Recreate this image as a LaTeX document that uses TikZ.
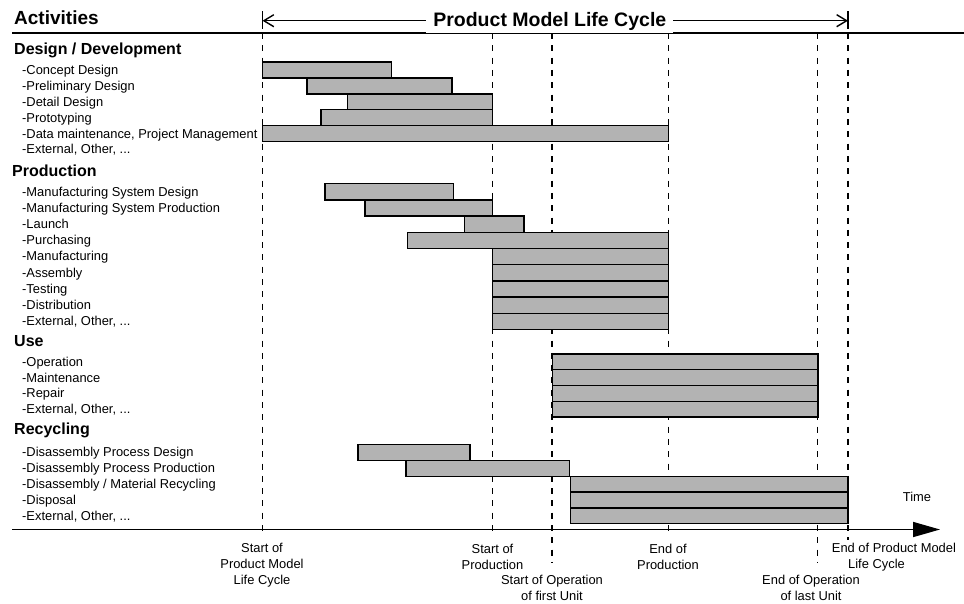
\documentclass[tikz,border=0pt]{standalone}
\usepackage{fontspec}
\setmainfont{Liberation Sans}
\usetikzlibrary{arrows.meta}
\definecolor{barfill}{RGB}{179,179,179}
% one gantt bar: x-from, x-to, top, height
\newcommand{\ganttbar}[4]{\draw[bar] (#1,#3) rectangle (#2,#3+#4);}
\begin{document}
\begin{tikzpicture}[x=1pt,y=-1pt,
  bar/.style={draw=black,fill=barfill,line width=1.4pt},
  milestone/.style={line width=1.5pt,dash pattern=on 6pt off 6.3pt},
  rule/.style={line width=1.6pt},
  item/.style={anchor=base west,inner sep=0pt,font=\fontsize{12.9}{15}\selectfont},
  group/.style={anchor=base west,inner sep=0pt,font=\bfseries\fontsize{16}{19}\selectfont},
  event/.style={align=center,inner sep=0pt,font=\fontsize{12.9}{16}\selectfont},
  barb/.tip={Straight Barb[length=10pt,width=12pt]},
]
\useasboundingbox (0,0) rectangle (964,603);

% milestone lines
\draw[milestone] (262.5,33) -- (262.5,533);
\draw[milestone] (492.5,33) -- (492.5,535);
\draw[milestone] (552,33) -- (552,562);
\draw[milestone] (668.3,33) -- (668.3,537);
\draw[milestone] (817.5,33) -- (817.5,562);
\draw[milestone] (848,33) -- (848,540);

% header rule and time axis
\draw[rule] (12,32.7) -- (964,32.7);
\draw[rule,-{Triangle[length=27pt,width=15pt]}] (12,529.5) -- (940,529.5);
\node[inner sep=0pt,font=\fontsize{12.9}{15}\selectfont] (time) at (917,496.7) {Time};

% life cycle span
\coordinate (lcL) at (262.5,20.7);
\coordinate (lcR) at (848,20.7);
\draw[line width=1.3pt] (262.5,11) -- (262.5,29);
\draw[line width=1.3pt] (848,11) -- (848,29);
\draw[line width=1.4pt,barb-barb] (lcL) -- (lcR);
\node[fill=white,anchor=base,inner xsep=7pt,inner ysep=2pt,font=\bfseries\fontsize{19.5}{22}\selectfont] (lc) at (549.8,26.8) {Product Model Life Cycle};

\node[group,font=\bfseries\fontsize{19}{22}\selectfont] (act) at (14,24.3) {Activities};

% Design / Development
\node[group] (g1) at (14,54.7) {Design / Development};
\node[item] at (22,74.4) {-Concept Design};
\node[item] at (22,90.3) {-Preliminary Design};
\node[item] at (22,106.2) {-Detail Design};
\node[item] at (22,122.1) {-Prototyping};
\node[item] at (22,138) {-Data maintenance, Project Management};
\node[item] at (22,153.9) {-External, Other, ...};
\ganttbar{262.5}{391.7}{62}{15.9}
\ganttbar{307}{452}{77.9}{15.9}
\ganttbar{347.7}{492.5}{93.8}{15.9}
\ganttbar{321}{492.5}{109.7}{15.9}
\ganttbar{262.5}{668.3}{125.6}{15.9}

% Production
\node[group] (g2) at (12,176.4) {Production};
\node[item] at (22,196.1) {-Manufacturing System Design};
\node[item] at (22,212.3) {-Manufacturing System Production};
\node[item] at (22,228.5) {-Launch};
\node[item] at (22,244.7) {-Purchasing};
\node[item] at (22,260.9) {-Manufacturing};
\node[item] at (22,277.1) {-Assembly};
\node[item] at (22,293.3) {-Testing};
\node[item] at (22,309.5) {-Distribution};
\node[item] at (22,325.7) {-External, Other, ...};
\ganttbar{325}{453.3}{183.6}{16.2}
\ganttbar{365}{492.5}{199.8}{16.2}
\ganttbar{464.3}{524}{216}{16.2}
\ganttbar{407.3}{668.3}{232.2}{16.2}
\foreach \t in {248.4,264.6,280.8,297,313.2}
  {\ganttbar{492.5}{668.3}{\t}{16.2}}

% Use
\node[group] (g3) at (14,346.7) {Use};
\node[item] at (22,366.3) {-Operation};
\node[item] at (22,382) {-Maintenance};
\node[item] at (22,397.8) {-Repair};
\node[item] at (22,413.5) {-External, Other, ...};
\foreach \t in {354,369.75,385.5,401.25}
  {\ganttbar{552.3}{818}{\t}{15.75}}

% Recycling
\node[group] (g4) at (14,434.5) {Recycling};
\node[item] at (22,456.8) {-Disassembly Process Design};
\node[item] at (22,472.7) {-Disassembly Process Production};
\node[item] at (22,488.5) {-Disassembly / Material Recycling};
\node[item] at (22,504.4) {-Disposal};
\node[item] at (22,520.2) {-External, Other, ...};
\ganttbar{358}{470}{444.5}{15.85}
\ganttbar{406}{569.7}{460.35}{15.85}
\foreach \t in {476.2,492.05,507.9}
  {\ganttbar{570.3}{848}{\t}{15.85}}

% milestone captions
\node[event] (ev-start) at (262,565.3) {Start of\\Product Model\\Life Cycle};
\node[event] (ev-sp) at (492.5,556.5) {Start of\\Production};
\node[event] (ev-so) at (552,588) {Start of Operation\\of first Unit};
\node[event] (ev-ep) at (668,556.5) {End of\\Production};
\node[event] (ev-eo) at (811,588) {End of Operation\\of last Unit};
\node[event,align=left,anchor=west] (ev-end) at (831.7,557.6) {End of Product Model\\\hspace*{16.3pt}Life Cycle};
\end{tikzpicture}
\end{document}
